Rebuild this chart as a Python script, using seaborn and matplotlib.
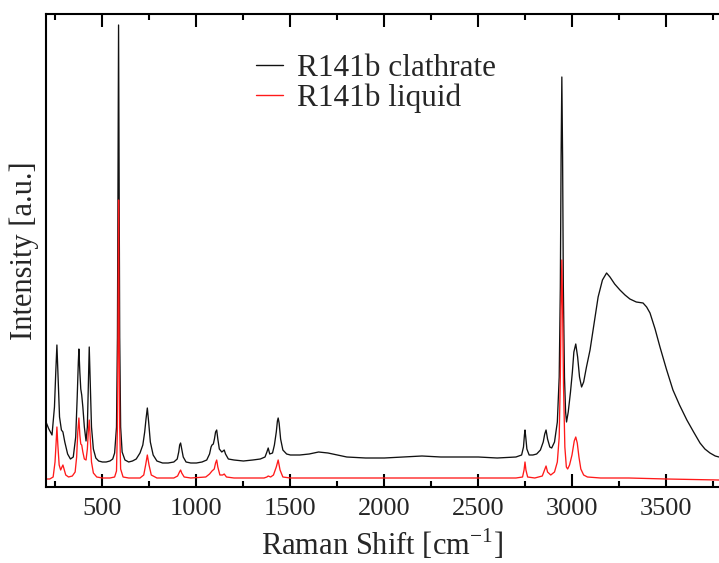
import matplotlib
matplotlib.use("Agg")
import matplotlib.pyplot as plt
import seaborn as sns
import pandas as pd
from matplotlib.ticker import MultipleLocator

# ---- data (Raman shift, intensity a.u.) ----
clathrate_x = [200, 215, 232, 245, 252, 258, 264, 272, 282, 290, 300, 315, 330, 345, 358, 366, 372, 375, 380, 385,
               390, 396, 404, 413, 420, 425, 430, 435, 442, 452, 465, 480, 500, 520, 540, 555, 565, 575, 580, 583,
               586, 589, 592, 597, 605, 620, 640, 660, 680, 700, 715, 725, 732, 739, 746, 755, 770, 790, 820, 850,
               880, 898, 906, 911, 916, 922, 930, 945, 970, 1000, 1030, 1055, 1070, 1078, 1083, 1090, 1096, 1102,
               1108, 1114, 1122, 1135, 1142, 1148, 1155, 1170, 1200, 1250, 1300, 1340, 1365, 1375, 1382, 1390, 1405,
               1415, 1425, 1431, 1435, 1440, 1448, 1460, 1480, 1500, 1550, 1600, 1650, 1700, 1750, 1800, 1900, 2000,
               2100, 2200, 2300, 2400, 2500, 2600, 2700, 2730, 2740, 2745, 2748, 2752, 2758, 2770, 2790, 2810, 2830,
               2845, 2853, 2860, 2868, 2880, 2890, 2905, 2920, 2930, 2936, 2940, 2944, 2948, 2952, 2958, 2964, 2969,
               2978, 2990, 3000, 3008, 3018, 3028, 3038, 3049, 3060, 3075, 3094, 3115, 3137, 3160, 3182, 3200, 3225,
               3253, 3280, 3306, 3340, 3376, 3395, 3413, 3440, 3466, 3500, 3535, 3570, 3609, 3645, 3679, 3705, 3732,
               3760, 3780]
clathrate_y = [65, 58, 52, 80, 115, 142, 110, 70, 57, 55, 45, 33, 28, 30, 50, 90, 125, 138, 115, 98,
               92, 80, 60, 46, 60, 100, 140, 105, 60, 38, 29, 26, 25, 25, 26, 28, 34, 60, 150, 300,
               462, 300, 150, 60, 35, 27, 25, 26, 28, 34, 42, 55, 68, 79, 65, 45, 32, 26, 24, 24,
               25, 28, 35, 42, 44, 38, 30, 25, 24, 24, 25, 27, 33, 40, 42, 43, 48, 55,
               57, 48, 38, 35, 36, 37, 33, 28, 27, 26, 27, 28, 30, 35, 39, 33, 34,
               42, 55, 66, 69, 64, 48, 37, 33, 32, 32, 33, 35, 34, 32, 30, 29, 29,
               30, 31, 30, 30, 30, 29, 30, 32, 40, 52, 57, 50, 38, 32, 32, 33, 37,
               45, 53, 57, 48, 40, 39, 45, 65, 110, 200, 330, 410, 330, 200, 110, 75, 65,
               75, 95, 115, 135, 143, 130, 110, 100, 105, 120, 137, 163, 190, 207, 214, 210, 203,
               197, 192, 188, 185, 184, 180, 174, 158, 140, 118, 97, 82, 67, 55, 44, 38, 34,
               31, 30]

liquid_x = [200, 220, 238, 248, 254, 258, 263, 270, 278, 285, 290, 296, 305, 320, 340, 355, 363, 369, 375, 380,
            385, 390, 396, 404, 413, 420, 425, 430, 435, 442, 452, 470, 500, 540, 565, 575, 580, 583, 586, 589,
            592, 597, 610, 640, 700, 720, 730, 739, 748, 760, 790, 880, 900, 910, 916, 922, 935, 970, 1050, 1070,
            1083, 1095, 1102, 1108, 1114, 1125, 1140, 1148, 1160, 1200, 1300, 1360, 1375, 1382, 1395, 1410, 1425,
            1435, 1445, 1460, 1500, 1700, 1900, 2100, 2300, 2500, 2700, 2735, 2743, 2748, 2753, 2762, 2800, 2840,
            2852, 2860, 2868, 2885, 2905, 2920, 2930, 2936, 2940, 2944, 2948, 2953, 2960, 2968, 2975, 2985, 2998,
            3010, 3018, 3026, 3035, 3045, 3060, 3080, 3150, 3300, 3500, 3780]
liquid_y = [8, 8, 10, 25, 45, 60, 42, 22, 17, 20, 22, 18, 12, 10, 11, 15, 30, 55, 69, 52,
            43, 42, 35, 28, 27, 38, 55, 67, 50, 25, 14, 10, 9, 9, 10, 16, 60, 150, 287, 150,
            60, 18, 10, 9, 9, 12, 22, 32, 22, 12, 9, 9, 11, 15, 17, 14, 10, 9, 10, 13,
            16, 18, 24, 27, 20, 12, 12, 13, 10, 9, 9, 9, 10, 11, 10, 12, 20,
            27, 17, 10, 9, 9, 9, 9, 9, 9, 9, 10, 17, 25, 17, 10, 9, 11,
            17, 21, 15, 12, 15, 25, 50, 110, 180, 227, 180, 100, 40, 20, 18, 22, 32,
            46, 50, 44, 30, 18, 12, 10, 9, 9, 8, 7]

series_names = ["R141b clathrate", "R141b liquid"]
tick_major = 500
tick_minor = 250

df = pd.concat([
    pd.DataFrame({"shift": clathrate_x, "intensity": clathrate_y, "series": series_names[0]}),
    pd.DataFrame({"shift": liquid_x, "intensity": liquid_y, "series": series_names[1]}),
], ignore_index=True)

sns.set_style("ticks")
plt.rcParams["font.family"] = ["Liberation Serif", "DejaVu Serif"]
plt.rcParams["mathtext.fontset"] = "custom"
plt.rcParams["mathtext.rm"] = "Liberation Serif"

fig = plt.figure(figsize=(7.19, 5.63), dpi=100)
ax = fig.add_axes([46 / 719, 1 - 487 / 563, 1 - 46 / 719, (487 - 14) / 563])

sns.lineplot(data=df, x="shift", y="intensity", hue="series", hue_order=series_names,
             palette={series_names[0]: "#111111", series_names[1]: "#ff1a1a"},
             estimator=None, sort=False, linewidth=0.95, ax=ax, legend=True)

ax.set_xlim(200, 3780)
ax.set_ylim(0, 473)
ax.xaxis.set_major_locator(MultipleLocator(tick_major))
ax.xaxis.set_minor_locator(MultipleLocator(tick_minor))
ax.set_yticks([])
ax.tick_params(axis="x", which="both", direction="in", top=True, bottom=True, width=1.5,
               labelsize=19, pad=8, color="black")
ax.tick_params(axis="x", which="major", length=9.4)
ax.tick_params(axis="x", which="minor", length=4.5)
for s in ["left", "bottom", "top"]:
    ax.spines[s].set_linewidth(1.5)
    ax.spines[s].set_color("black")
ax.spines["right"].set_visible(False)

ax.set_xlabel(r"Raman Shift [cm$^{\mathregular{-1}}$]", fontsize=22, labelpad=5)
ax.set_ylabel("Intensity [a.u.]", fontsize=22, labelpad=5)

leg = ax.legend(frameon=False, fontsize=22.5, loc="upper left",
                bbox_to_anchor=(256 / 719, 1 - 54 / 563), bbox_transform=fig.transFigure,
                borderpad=0, borderaxespad=0, handlelength=0.85, handletextpad=0.45,
                labelspacing=0.02)
for line in leg.get_lines():
    line.set_linewidth(1.0)

fig.savefig("out.png", dpi=100)
